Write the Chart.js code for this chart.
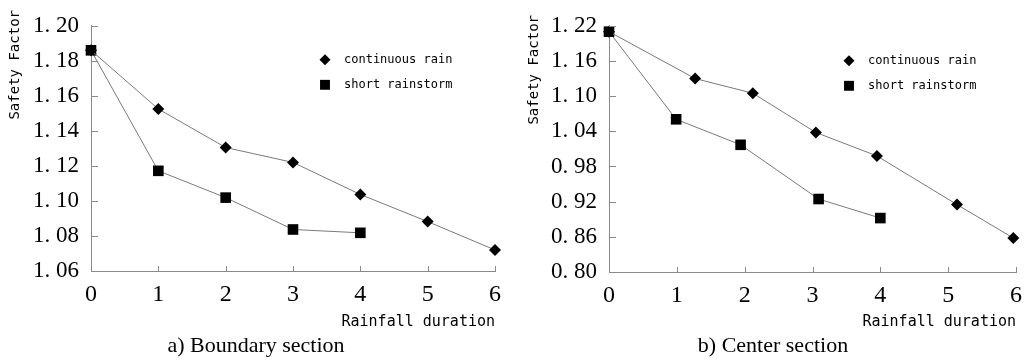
<!DOCTYPE html>
<html lang="en">
<head>
    <meta charset="utf-8">
    <title>Safety Factor vs Rainfall duration</title>
    <script src="https://cdn.jsdelivr.net/npm/chart.js"></script>
    <style>
        body { margin: 0; background: #fff; width: 1031px; height: 361px; position: relative; overflow: hidden; }
        canvas { position: absolute; top: 0; }
        #boundaryChart { left: 0; }
        #centerChart { left: 515px; }
        .caption { position: absolute; top: 332px; font-family: "Liberation Serif", serif; font-size: 22px; line-height: 26px; color: #000; text-align: center; }
    </style>
</head>
<body>
    <canvas id="boundaryChart" width="515" height="335"></canvas>
    <canvas id="centerChart" width="516" height="335"></canvas>
    <div class="caption" style="left:156px;width:200px">a) Boundary section</div>
    <div class="caption" style="left:673px;width:200px">b) Center section</div>

    <script>
        // series names
        const seriesNames = ['continuous rain', 'short rainstorm'];

        // x ticks (rainfall duration)
        const durationTicks = [0, 1, 2, 3, 4, 5, 6];

        // a) boundary section
        const boundaryYTicks = [1.06, 1.08, 1.10, 1.12, 1.14, 1.16, 1.18, 1.20];
        const boundaryContX = [0, 1, 2, 3, 4, 5, 6];
        const boundaryCont = [1.186, 1.1525, 1.1305, 1.122, 1.1037, 1.0882, 1.072];
        const boundaryShortX = [0, 1, 2, 3, 4];
        const boundaryShort = [1.186, 1.1172, 1.1019, 1.0837, 1.0818];

        // b) center section
        const centerYTicks = [0.80, 0.86, 0.92, 0.98, 1.04, 1.10, 1.16, 1.22];
        const centerContX = [0, 1.27, 2.12, 3.05, 3.95, 5.13, 5.96];
        const centerCont = [1.21, 1.13, 1.105, 1.038, 0.998, 0.915, 0.858];
        const centerShortX = [0, 0.99, 1.94, 3.09, 4.0];
        const centerShort = [1.21, 1.0605, 1.017, 0.9245, 0.892];

        const pointStyles = ['rectRot', 'rect'];
        const pointRadii = [6, 7.5];

        // small tick marks drawn inside the plot, y title at top, legend inside plot
        const decorPlugin = {
            id: 'decor',
            afterDraw(chart, args, opts) {
                const ctx = chart.ctx;
                const area = chart.chartArea;
                const xs = chart.scales.x, ys = chart.scales.y;
                ctx.save();
                ctx.strokeStyle = '#8a8a8a';
                ctx.lineWidth = 1;
                ctx.beginPath();
                ys.ticks.forEach(t => {
                    const y = Math.round(ys.getPixelForValue(t.value)) + 0.5;
                    ctx.moveTo(area.left, y);
                    ctx.lineTo(area.left + 7, y);
                });
                xs.ticks.forEach(t => {
                    const x = Math.round(xs.getPixelForValue(t.value)) + 0.5;
                    ctx.moveTo(x, area.bottom);
                    ctx.lineTo(x, area.bottom - 5);
                });
                ctx.stroke();

                // y title
                ctx.fillStyle = '#000';
                ctx.font = '14px "DejaVu Sans Mono", monospace';
                ctx.translate(opts.titleX, opts.titleY);
                ctx.rotate(-Math.PI / 2);
                ctx.textAlign = 'right';
                ctx.textBaseline = 'middle';
                ctx.fillText('Safety Factor', 0, 0);
                ctx.restore();

                // legend
                ctx.save();
                ctx.font = '12px "DejaVu Sans Mono", monospace';
                ctx.textBaseline = 'middle';
                ctx.textAlign = 'left';
                chart.data.datasets.forEach((ds, i) => {
                    const lx = area.left + opts.legendX;
                    const ly = area.top + opts.legendY + i * 25;
                    ctx.fillStyle = '#000';
                    Chart.helpers.drawPoint(ctx, {
                        pointStyle: ds.pointStyle,
                        radius: i === 0 ? 5.5 : 7,
                        rotation: 0,
                        borderWidth: 0
                    }, lx, ly);
                    ctx.fillText(ds.label, lx + 19, ly);
                });
                ctx.restore();
            }
        };

        function makeSeries(xs, ys, i) {
            return {
                label: seriesNames[i],
                data: xs.map((x, k) => ({ x: x, y: ys[k] })),
                borderColor: '#7a7a7a',
                borderWidth: 1,
                pointStyle: pointStyles[i],
                pointRadius: pointRadii[i],
                pointHoverRadius: pointRadii[i],
                pointBackgroundColor: '#000',
                pointBorderWidth: 0,
                tension: 0,
                clip: false
            };
        }

        function makeChart(id, series, yTicks, box) {
            return new Chart(document.getElementById(id), {
                type: 'line',
                data: { datasets: series },
                options: {
                    responsive: false,
                    animation: false,
                    events: [],
                    layout: { padding: { left: 0, right: box.padRight, top: box.padTop, bottom: 0 } },
                    plugins: {
                        legend: { display: false },
                        tooltip: { enabled: false },
                        decor: box.decor
                    },
                    scales: {
                        x: {
                            type: 'linear',
                            min: durationTicks[0],
                            max: durationTicks[durationTicks.length - 1],
                            afterBuildTicks: s => { s.ticks = durationTicks.map(v => ({ value: v })); },
                            afterFit: s => { s.height = box.xHeight; },
                            grid: { display: false, drawTicks: false },
                            border: { color: '#8a8a8a', width: 1 },
                            ticks: {
                                padding: 9,
                                color: '#000',
                                font: { family: 'Liberation Serif', size: 24 },
                                callback: v => String(v)
                            },
                            title: {
                                display: true,
                                text: 'Rainfall duration',
                                align: 'end',
                                color: '#000',
                                font: { family: 'DejaVu Sans Mono', size: 15 },
                                padding: { top: 0, bottom: 4 }
                            }
                        },
                        y: {
                            min: yTicks[0],
                            max: yTicks[yTicks.length - 1],
                            afterBuildTicks: s => { s.ticks = yTicks.map(v => ({ value: v })); },
                            afterFit: s => { s.width = box.yWidth; },
                            grid: { display: false, drawTicks: false },
                            border: { color: '#8a8a8a', width: 1 },
                            ticks: {
                                padding: 12,
                                color: '#000',
                                font: { family: 'Liberation Serif', size: 23 },
                                callback: v => v.toFixed(2).replace('.', '. ')
                            }
                        }
                    }
                },
                plugins: [decorPlugin]
            });
        }

        makeChart('boundaryChart', [
            makeSeries(boundaryContX, boundaryCont, 0),
            makeSeries(boundaryShortX, boundaryShort, 1)
        ], boundaryYTicks, {
            padRight: 20, padTop: 21, xHeight: 64, yWidth: 91,
            decor: { titleX: 15, titleY: 10, legendX: 234, legendY: 34 }
        });

        makeChart('centerChart', [
            makeSeries(centerContX, centerCont, 0),
            makeSeries(centerShortX, centerShort, 1)
        ], centerYTicks, {
            padRight: 15, padTop: 20, xHeight: 63, yWidth: 94,
            decor: { titleX: 19, titleY: 15, legendX: 240, legendY: 35 }
        });
    </script>
</body>
</html>
